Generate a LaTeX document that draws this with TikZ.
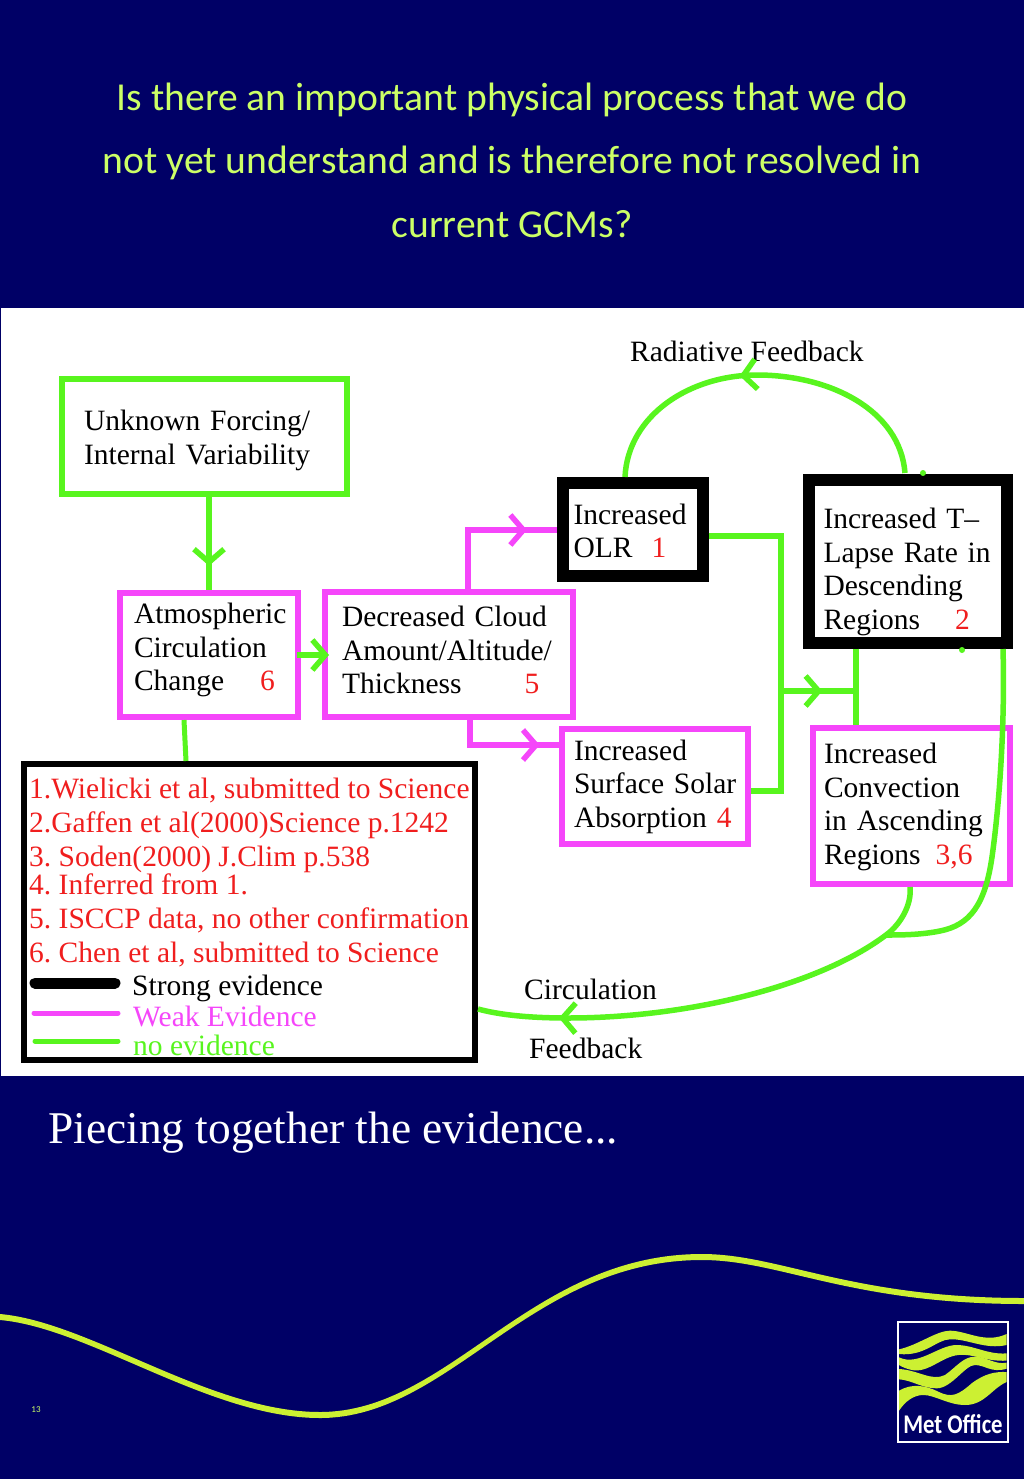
\documentclass[tikz,border=0pt]{standalone}
\usepackage{fontspec}
\setmainfont{Liberation Serif}
\newfontfamily\titlefont{Carlito}
\usetikzlibrary{arrows.meta, decorations.markings}
\definecolor{slidenavy}{RGB}{0, 0, 102}
\definecolor{limetext}{RGB}{204, 255, 102}
\definecolor{limewave}{RGB}{204, 240, 50}
\definecolor{linkgreen}{RGB}{88, 245, 30}
\definecolor{weakpink}{RGB}{245, 70, 250}
\definecolor{refred}{RGB}{240, 30, 30}
\newcommand{\refnum}[1]{\textcolor{refred}{#1}}
\newcommand{\boxfont}{\fontsize{29.5}{33.6}\selectfont\frenchspacing}
\newcommand{\topgap}[1]{\rule{0pt}{#1}}
\newcommand{\botgap}[1]{\rule[-#1]{0pt}{#1}}

\begin{document}
\begin{tikzpicture}[
    x=1pt, y=-1pt,
    nodebox/.style={draw, align=left, inner sep=0pt, text=black, font=\boxfont},
    strongbox/.style={nodebox, line width=12pt},
    weakbox/.style={nodebox, draw=weakpink, line width=6pt},
    plainlabel/.style={anchor=base west, inner sep=0pt, font=\boxfont},
    flow/.style={linkgreen, line width=5.5pt},
    weakflow/.style={weakpink, line width=6pt},
    midtip/.style={postaction={decorate, decoration={markings,
        mark=at position #1 with {\arrow[line width=5.5pt]{Straight Barb[length=13pt, width=30pt]}}}}},
    logoband/.style={fill=limewave, draw=none}
]
    \useasboundingbox (0,0) rectangle (1024,1479);
    \fill[slidenavy] (0,0) rectangle (1024,1479);
    \fill[white] (1,308) rectangle (1024,1076);

    \node[text=limetext, align=center, font=\titlefont\fontsize{39.6}{63.4}\selectfont] (question) at (512,160)
        {Is there an important physical process that we do\\
         not yet understand and is therefore not resolved in\\
         current GCMs?};

    \node[nodebox, draw=linkgreen, line width=6pt, minimum width=285pt, minimum height=115pt, text width=241pt] (forcing) at (204.5,436.5)
        {\topgap{28pt}Unknown Forcing/\\Internal Variability};
    \node[weakbox, minimum width=178pt, minimum height=124pt, text width=150pt] (circulation) at (209,655)
        {Atmospheric\\Circulation\\Change\hspace{36pt}\refnum{6}\botgap{16pt}};
    \node[weakbox, minimum width=248pt, minimum height=125pt, text width=214pt] (cloud) at (449,654.5)
        {Decreased Cloud\\Amount/Altitude/\\Thickness\hspace{63pt}\refnum{5}\botgap{9pt}};
    \node[strongbox, minimum width=140pt, minimum height=93pt, text width=118pt] (olr) at (632.5,529)
        {\topgap{24pt}Increased\\OLR\hspace{19pt}\refnum{1}};
    \node[strongbox, minimum width=198pt, minimum height=163pt, text width=168pt] (lapse) at (907.5,561)
        {\topgap{42pt}Increased T--\\Lapse Rate in\\Descending\\Regions\hspace{35pt}\refnum{2}};
    \node[weakbox, minimum width=186pt, minimum height=115pt, text width=162pt] (solar) at (655,786.5)
        {Increased\\\mbox{Surface Solar}\\Absorption\hspace{10pt}\refnum{4}};
    \node[weakbox, minimum width=197pt, minimum height=156pt, text width=175pt] (convection) at (911.5,806)
        {\topgap{22pt}Increased\\Convection\\in Ascending\\Regions\hspace{15pt}\refnum{3,6}};
    \node[draw, line width=6pt, minimum width=451pt, minimum height=296pt] (legend) at (249.5,912) {};

    \foreach \ypos/\reftext in {798/{1.Wielicki et al, submitted to Science},
        832/{2.Gaffen et al(2000)Science p.1242},
        866/{3. Soden(2000) J.Clim p.538},
        894/{4. Inferred from 1.},
        928/{5. ISCCP data, no other confirmation},
        962/{6. Chen et al, submitted to Science}}
        \node[plainlabel, text=refred] (ref\ypos) at (29,\ypos) {\reftext};

    \node[plainlabel] (strong) at (132,995) {Strong evidence};
    \node[plainlabel, text=weakpink] (weak) at (133,1026) {Weak Evidence};
    \node[plainlabel, text=linkgreen] (none) at (133,1055) {no evidence};
    \draw[line width=11pt, line cap=round] (35,983) -- (115,983);
    \draw[weakpink, line width=5pt, line cap=round] (34,1013) -- (118,1013);
    \draw[linkgreen, line width=5pt, line cap=round] (35,1041) -- (118,1041);

    \node[plainlabel] (radiative) at (630,361) {Radiative Feedback};
    \node[plainlabel] (circlabel) at (524,999) {Circulation};
    \node[plainlabel] (fedlabel) at (529,1058) {Feedback};

    \coordinate (olrbend) at (781,536);
    \coordinate (solarbend) at (781,791);
    \coordinate (sidejoin) at (781,691);
    \coordinate (barjoin) at (856,691);
    \coordinate (merge) at (886,935);

    \draw[flow, midtip=0.74] (circulation.north |- forcing.south) -- (circulation.north);
    \draw[flow, line width=5pt] (184,720) -- (186,761);
    \draw[weakflow, midtip=0.8] (468,589) -- (468,530) -- (olr.west |- 468,530);
    \draw[weakflow, midtip=0.83] (470,720) -- (470,745) -- (solar.west |- 470,745);
    \draw[flow, -{Straight Barb[length=13pt, width=30pt]}] (297,655) -- (329,655);
    \draw[flow, line width=6pt] ([yshift=-7pt]olr.east) -- (olrbend) -- (solarbend) -- (solar.east |- solarbend);
    \draw[flow, midtip=0.55] (sidejoin) -- (barjoin);
    \draw[flow] (barjoin |- lapse.south) -- (barjoin |- convection.north);
    \draw[flow, midtip=0.56] (905,473) .. controls (900,410) and (830,375) .. (757,375)
        .. controls (690,375) and (628,415) .. (625,477);
    \draw[flow, midtip=0.83] (910,887) .. controls (912,905) and (900,925) .. (886,935)
        .. controls (820,985) and (690,1018) .. (568,1018)
        .. controls (530,1018) and (500,1015) .. (478,1009);
    \draw[flow] (1003,649) .. controls (1005,720) and (1000,800) .. (992,857)
        .. controls (985,905) and (970,925) .. (940,931)
        .. controls (920,935) and (900,935) .. (merge);
    \fill[linkgreen] (923,473) circle (3pt) (962,650) circle (3pt);

    \node[plainlabel, text=white, font=\fontsize{45.4}{50}\selectfont] (caption) at (48,1143) {Piecing together the evidence...};

    \fill[limewave] (0,1314) .. controls (90,1322) and (210,1412) .. (320,1412)
        .. controls (450,1412) and (530,1254) .. (702,1254)
        .. controls (780,1254) and (850,1298) .. (1024,1298)
        -- (1024,1304) .. controls (850,1304) and (780,1260) .. (702,1260)
        .. controls (530,1260) and (450,1418) .. (320,1418)
        .. controls (210,1418) and (90,1328) .. (0,1320) -- cycle;
    \node[text=limetext, inner sep=0pt, font=\titlefont\fontsize{9}{11}\selectfont] (pagenum) at (36,1410) {13};

    \node[draw=white, fill=slidenavy, line width=2pt, minimum width=110pt, minimum height=120pt] (logo) at (953,1382) {};
    \begin{scope}[shift={(895,1320)}, x=0.3333pt, y=-0.3333pt]
        \fill[logoband] (12,88) .. controls (70,75) and (125,32) .. (165,32) .. controls (215,32) and (270,72) .. (335,42)
            -- (335,75) .. controls (270,90) and (215,55) .. (165,58) .. controls (125,58) and (90,110) .. (12,102) -- cycle;
        \fill[logoband] (12,112) .. controls (70,140) and (130,75) .. (185,75) .. controls (235,75) and (280,105) .. (335,100)
            -- (335,122) .. controls (270,125) and (235,100) .. (190,105) .. controls (140,110) and (100,160) .. (50,150)
            .. controls (30,145) and (20,140) .. (12,135) -- cycle;
        \fill[logoband] (12,147) .. controls (70,150) and (110,185) .. (150,165) .. controls (185,140) and (205,110) .. (240,110)
            .. controls (275,110) and (300,135) .. (335,128) -- (335,146) .. controls (290,160) and (270,135) .. (240,135)
            .. controls (210,135) and (170,205) .. (125,205) .. controls (80,205) and (50,180) .. (12,178) -- cycle;
        \fill[logoband] (12,212) .. controls (50,190) and (90,195) .. (130,215) .. controls (170,235) and (190,225) .. (230,190)
            .. controls (270,160) and (300,155) .. (335,156) -- (335,186) .. controls (290,205) and (270,255) .. (210,255)
            .. controls (160,255) and (120,225) .. (85,225) .. controls (55,225) and (30,245) .. (12,272) -- cycle;
    \end{scope}
    \node[text=white, inner sep=0pt, xscale=0.84, transform shape, font=\titlefont\bfseries\fontsize{27}{30}\selectfont] (metoffice) at (953,1424) {Met Office};
\end{tikzpicture}
\end{document}
